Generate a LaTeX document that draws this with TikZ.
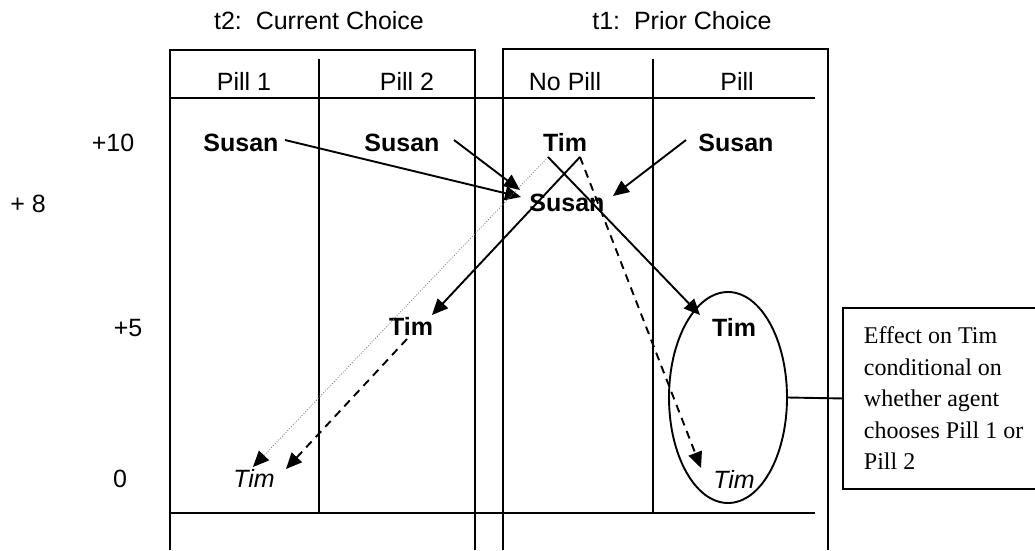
\documentclass[tikz,border=0pt]{standalone}
\usepackage{fontspec}
\setmainfont{Liberation Serif}
\newfontfamily\arialish{Liberation Sans}
\usetikzlibrary{arrows.meta,shapes.geometric}

\begin{document}
\begin{tikzpicture}[x=1pt,y=-1pt,
  rule/.style={line width=1.9pt},
  lbl/.style={font=\arialish\fontsize{25}{30}\selectfont, inner sep=0pt, anchor=base},
  who/.style={font=\arialish\bfseries\fontsize{25}{30}\selectfont, inner sep=0pt, anchor=base},
  iwho/.style={font=\arialish\itshape\fontsize{25}{30}\selectfont, inner sep=0pt, anchor=base},
  tip/.tip={Triangle[length=16pt,width=14pt,black]},
  arr/.style={line width=1.9pt, -tip},
  darr/.style={arr, dash pattern=on 8pt off 6pt},
  dotarr/.style={line width=0.8pt, gray, dash pattern=on 1pt off 1.6pt, -tip}
]
\useasboundingbox (0,0) rectangle (1035,550);

% frames of the two tables
\draw[rule, line join=miter] (170,550) -- (170,50) -- (475,50) -- (475,550);
\draw[rule, line join=miter] (503,550) -- (503,49) -- (828,49) -- (828,550);
\draw[rule] (170,98) -- (815,98);
\draw[rule] (170,513) -- (815,513);
\draw[rule] (319,59) -- (319,513);
\draw[rule] (653,59) -- (653,513);

% titles and column heads
\node[lbl] (t2) at (319,29) {t2:~~Current Choice};
\node[lbl] (t1) at (682,29) {t1:~~Prior Choice};
\node[lbl] (h1) at (244,90) {Pill 1};
\node[lbl] (h2) at (407,90) {Pill 2};
\node[lbl] (h3) at (565,90) {No Pill};
\node[lbl] (h4) at (737,90) {Pill};

% value scale
\node[lbl] (v10) at (113,151) {+10};
\node[lbl] (v8)  at (28,212)  {+ 8};
\node[lbl] (v5)  at (128,336) {+5};
\node[lbl] (v0)  at (120,487) {0};

% people
\node[who] (sA) at (241,151) {Susan};
\node[who] (sB) at (402,151) {Susan};
\node[who] (tN) at (565,151) {Tim};
\node[who] (sP) at (736,151) {Susan};
\node[who] (sM) at (567,211) {Susan};
\node[who] (tB) at (411,335) {Tim};
\node[who] (tE) at (734,336) {Tim};
\node[iwho] (tA0) at (254,487) {Tim};
\node[iwho] (tE0) at (734,488) {Tim};

% grouping oval and its note
\node[draw, ellipse, line width=1.9pt, minimum width=118pt, minimum height=211pt, inner sep=0pt] (oval) at (728,397.5) {};
\node[draw, line width=1.9pt, anchor=north west, minimum height=181pt, inner xsep=21pt,
      align=left, font=\fontsize{24}{31.5}\selectfont] (note) at (842,307)
  {Effect on Tim\\conditional on\\whether agent\\chooses Pill 1 or\\Pill 2};
\draw[rule] (oval.east) -- (note.west);

% connector ends
\coordinate (sAout) at (285,140);
\coordinate (sBout) at (454,140);
\coordinate (sPout) at (686,140);
\coordinate (sMin1) at (521,197);
\coordinate (sMin2) at (520,190);
\coordinate (sMin3) at (613,196);
\coordinate (tNl) at (548,157);
\coordinate (tNr) at (580,157);
\coordinate (tBin) at (432,315);
\coordinate (tBout) at (407,339);
\coordinate (tEin) at (700,315);
\coordinate (tE0in) at (701,468);
\coordinate (tA0in1) at (253,467);
\coordinate (tA0in2) at (286,469);

% Susan's moves
\draw[arr] (sAout) -- (sMin1);
\draw[arr] (sBout) -- (sMin2);
\draw[arr] (sPout) -- (sMin3);

% Tim's moves
\draw[dotarr] (tNl) -- (tA0in1);
\draw[arr] (tNr) -- (tBin);
\draw[arr] (tNl) -- (tEin);
\draw[darr] (tNr) -- (tE0in);
\draw[darr] (tBout) -- (tA0in2);
\end{tikzpicture}
\end{document}
